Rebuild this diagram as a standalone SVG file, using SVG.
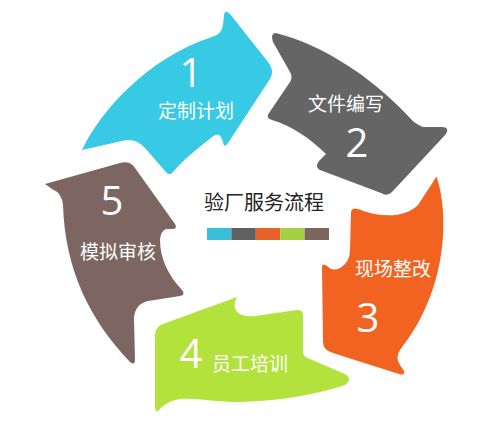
<svg xmlns="http://www.w3.org/2000/svg" width="500" height="425" viewBox="0 0 500 425">
<style>
.num{font-family:"Open Sans","DejaVu Sans",sans-serif;font-size:40px;fill:#fff;text-anchor:middle}
.lbl{font-family:"Noto Sans CJK SC","Noto Sans CJK JP",sans-serif;font-size:19px;fill:#fff;text-anchor:middle}
.title{font-family:"Noto Sans CJK SC","Noto Sans CJK JP",sans-serif;font-size:20px;fill:#222;text-anchor:middle}
</style>
<rect width="500" height="425" fill="#fff"/>
<g id="step1">
<path fill="#38C9E5" d="M82,150 C100,112 147,58 212,37 Q222,34 223,25 L224,15 Q225,9 230,14 L268,62 Q276,72 268,82 L228,143 Q224,149 223,142 L221,137 Q218,132 212,137 C198,148 183,160 173,172 Q169,177 165,171 L145,148 Q135,137 122,141 Z"/>
<text class="num" x="191" y="87">1</text>
<text class="lbl" x="196" y="118">定制计划</text>
</g>
<g id="step2">
<path fill="#656565" d="M276,33 C322,45 370,75 410,118 Q415,124 423,127 L442,127 Q450,127 446,134 L392,192 Q387,197 381,193 L320,170 Q313,166 322,158 L326,154 C310,138 290,125 272,120 Q265,118 269,113 L290,82 Q293,77 290,72 L273,42 Q270,33 276,33 Z"/>
<text class="lbl" x="346" y="111">文件编写</text>
<text class="num" x="357" y="157">2</text>
</g>
<g id="step3">
<path fill="#F26322" d="M437,178 C449,215 448,290 400,350 Q395,358 400,365 L404,371 Q405,376 399,374 L333,353 Q323,350 323,342 L322,268 Q322,262 327,266 Q333,272 340,268 Q350,262 350,250 L351,212 Q352,207 358,209 C380,218 405,218 418,205 L433,182 Q437,175 437,178 Z"/>
<text class="lbl" x="393" y="276">现场整改</text>
<text class="num" x="368" y="332">3</text>
</g>
<g id="step4">
<path fill="#B3E23C" d="M155,335 Q155,327 163,324 L237,297 Q231,309 240,314 Q246,317 255,316 L297,310 Q303,309 303,316 L303,352 Q303,357 310,359 L345,374 Q353,379 345,385 Q300,400 240,402 C210,402 190,396 175,400 Q165,403 159,410 Q155,414 155,406 Z"/>
<text class="num" x="191" y="368">4</text>
<text class="lbl" x="250" y="371">员工培训</text>
</g>
<g id="step5">
<path fill="#7D6661" d="M45,184 L120,163 Q130,160 135,168 L175,224 Q178,229 172,229 L166,229 Q160,232 160,240 C160,258 168,275 182,290 Q186,295 180,296 L148,301 Q135,304 134,318 L135,360 Q135,366 130,362 C90,320 65,270 63,205 Q62,193 52,189 Z"/>
<text class="num" x="112" y="215">5</text>
<text class="lbl" x="118" y="259">模拟审核</text>
</g>
<g id="center">
<text class="title" x="264" y="210">验厂服务流程</text>
<rect x="207" y="228" width="24.4" height="12" fill="#3BBFD9"/>
<rect x="231.4" y="228" width="24.4" height="12" fill="#5F6162"/>
<rect x="255.8" y="228" width="24.4" height="12" fill="#E8632A"/>
<rect x="280.2" y="228" width="24.4" height="12" fill="#A6CF44"/>
<rect x="304.6" y="228" width="24.4" height="12" fill="#7B665F"/>
</g>
<g id="connectors"></g>
</svg>
